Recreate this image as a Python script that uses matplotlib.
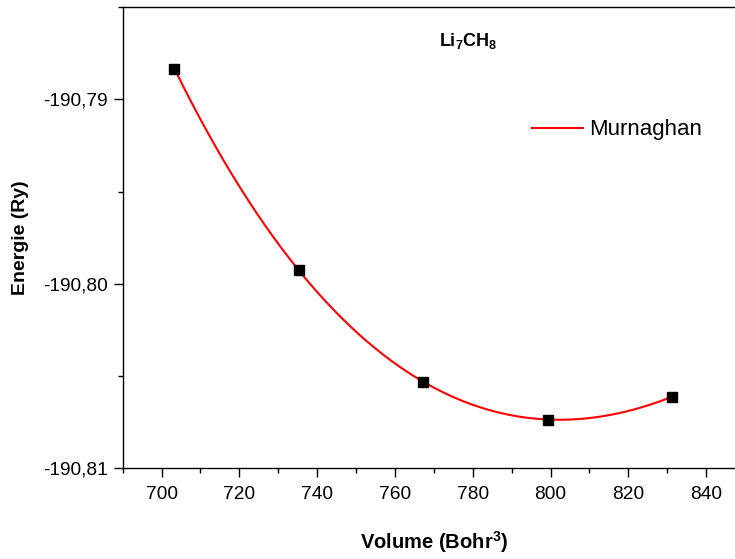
import numpy as np
import matplotlib
matplotlib.use('Agg')
import matplotlib.pyplot as plt
from matplotlib.ticker import MultipleLocator, FuncFormatter

# Data
volume = [703.3, 735.3, 767.3, 799.3, 831.3]          # Bohr^3
energy = [-190.78834, -190.79927, -190.80529, -190.80735, -190.80612]  # Ry

plt.rcParams['font.family'] = ['Liberation Sans', 'DejaVu Sans']
plt.rcParams['mathtext.fontset'] = 'custom'
plt.rcParams['mathtext.rm'] = 'Liberation Sans'
plt.rcParams['mathtext.bf'] = 'Liberation Sans:bold'

V = np.array(volume)
E = np.array(energy)


# Murnaghan fit: linear in E0, B0 for fixed V0, B'; grid search the rest
def murn_basis(v, v0, bp):
    return v / bp * ((v0 / v) ** bp / (bp - 1) + 1) - v0 / (bp - 1)

best = None
for v0 in np.linspace(770, 830, 241):
    for bp in np.linspace(1.2, 10, 177):
        A = np.column_stack([np.ones_like(V), murn_basis(V, v0, bp)])
        coef, *_ = np.linalg.lstsq(A, E, rcond=None)
        res = np.sum((A @ coef - E) ** 2)
        if best is None or res < best[0]:
            best = (res, v0, bp, coef)
_, v0, bp, coef = best
v_fit = np.linspace(V.min(), V.max(), 300)
e_fit = coef[0] + coef[1] * murn_basis(v_fit, v0, bp)

fig = plt.figure(figsize=(7.35, 5.59), dpi=100)
ax = fig.add_axes([0.1669, 0.1619, 0.8467, 0.8256])

ax.plot(v_fit, e_fit, color='red', lw=1.5, label='Murnaghan', zorder=2)
ax.plot(V, E, 's', color='black', ms=7, zorder=3)

ax.set_xlim(690, 850)
ax.set_ylim(-190.81, -190.785)
ax.xaxis.set_major_locator(MultipleLocator(20))
ax.xaxis.set_minor_locator(MultipleLocator(10))
ax.yaxis.set_major_locator(MultipleLocator(0.01))
ax.yaxis.set_minor_locator(MultipleLocator(0.005))
ax.yaxis.set_major_formatter(FuncFormatter(lambda y, p: f'{y:.2f}'.replace('.', ',')))

ax.tick_params(which='major', direction='out', length=6.5, width=1, labelsize=13.8, pad=4)
ax.tick_params(which='minor', direction='out', length=3.6, width=1)
ax.tick_params(axis='x', which='major', pad=6)
for s in ax.spines.values():
    s.set_linewidth(1.0)

ax.set_xlabel('Volume (Bohr$^\\mathbf{3}$)', fontsize=14.5, fontweight='bold', labelpad=19)
ax.set_ylabel('Energie (Ry)', fontsize=14, fontweight='bold', labelpad=10)

ax.text(0.556, 0.915, r'$\mathbf{Li_7CH_8}$', transform=ax.transAxes, fontsize=13, ha='center')

ax.legend(loc='upper left', bbox_to_anchor=(0.625, 0.80), frameon=False, fontsize=16,
          handlelength=2.3, handletextpad=0.3)

fig.savefig('out.png', dpi=100)
